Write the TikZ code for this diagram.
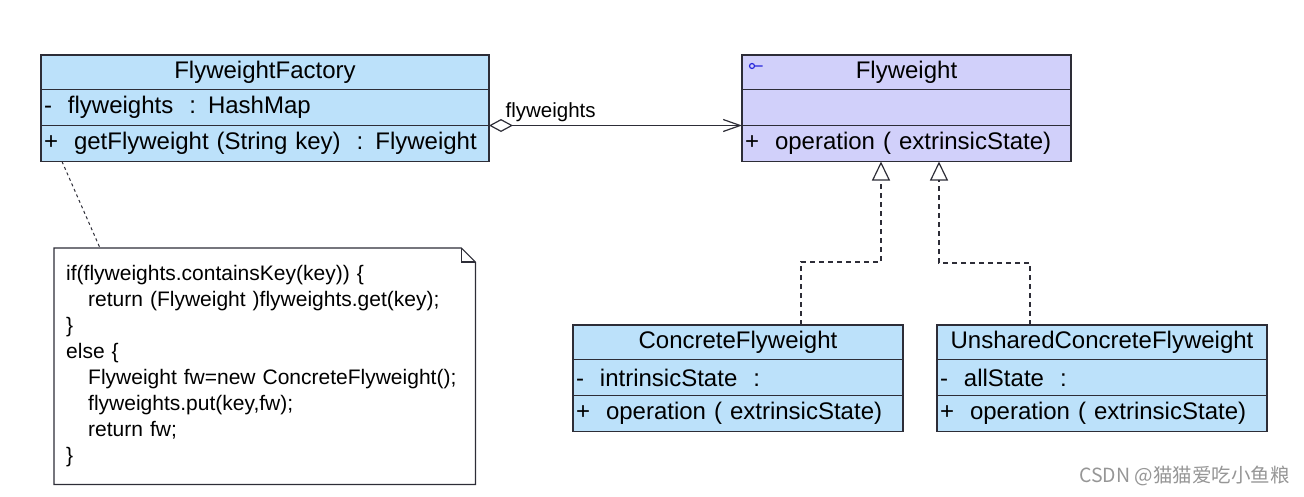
\documentclass[tikz,border=0pt]{standalone}
\usepackage{fontspec}
\setmainfont{Liberation Sans}
\newfontfamily\cjkfont{Noto Sans CJK SC}
\usepackage{tikz}
\usetikzlibrary{arrows.meta, shapes, positioning}
\definecolor{classblue}{RGB}{188,225,250}
\definecolor{ifaceblue}{RGB}{209,208,250}
\definecolor{boxline}{RGB}{45,45,55}
\definecolor{iconblue}{RGB}{40,40,220}
\definecolor{markgray}{RGB}{150,150,150}
\newcommand{\clsfont}{\fontsize{24}{29}\selectfont}
\newcommand{\notefont}{\fontsize{21}{26}\selectfont}
\newcommand{\lblfont}{\fontsize{20.5}{24}\selectfont}

\begin{document}
\begin{tikzpicture}[x=1pt, y=-1pt]
\tikzstyle{clsbox}=[draw=boxline, line width=1.2pt, fill=classblue, inner sep=0pt, outer sep=0pt, font=\clsfont]
\tikzstyle{clsname}=[clsbox, minimum height=34.5pt, anchor=north west]
\tikzstyle{clsrow}=[clsbox, minimum height=36pt, inner xsep=3pt, align=left]
\tikzstyle{realize}=[draw=boxline, line width=1.2pt, dash pattern=on 5pt off 4pt, -{Triangle[open, length=19pt, width=18pt]}]
\tikzstyle{notelink}=[draw=boxline, line width=1pt, dash pattern=on 3pt off 3pt]
\useasboundingbox (0,0) rectangle (1304,496);

\node (factory) [clsname, minimum width=448pt] at (41,55) {FlyweightFactory};
\node (factory-attr) [clsrow, text width=442pt, below=0pt of factory] {-~~flyweights~~: HashMap};
\node (factory-op) [clsrow, text width=442pt, below=0pt of factory-attr] {\mbox{+~~getFlyweight (String key)~~: Flyweight}};

\node (flyweight) [clsname, fill=ifaceblue, minimum width=329pt] at (742,55) {Flyweight};
\node (flyweight-attr) [clsrow, fill=ifaceblue, text width=323pt, below=0pt of flyweight] {};
\node (flyweight-op) [clsrow, fill=ifaceblue, text width=323pt, below=0pt of flyweight-attr] {+~~operation ( extrinsicState)};
\draw [draw=iconblue, line width=1.2pt] ([xshift=10pt, yshift=-11pt]flyweight.north west) circle (2.5pt) ++(2.5pt,0) -- ++(8pt,0);

\node (concrete) [clsname, minimum width=330pt] at (573,325) {ConcreteFlyweight};
\node (concrete-attr) [clsrow, text width=324pt, below=0pt of concrete] {-~~intrinsicState~~:};
\node (concrete-op) [clsrow, text width=324pt, below=0pt of concrete-attr] {+~~operation ( extrinsicState)};

\node (unshared) [clsname, minimum width=330pt] at (937,325) {UnsharedConcreteFlyweight};
\node (unshared-attr) [clsrow, text width=324pt, below=0pt of unshared] {-~~allState~~:};
\node (unshared-op) [clsrow, text width=324pt, below=0pt of unshared-attr] {+~~operation ( extrinsicState)};

\draw [draw=boxline, line width=1.2pt, {Diamond[open, length=24pt, width=13pt]}-{Straight Barb[length=17pt, width=12pt]}] (factory-op.north east) -- node[pos=0, anchor=base west, xshift=16pt, yshift=8pt, inner sep=0pt, font=\lblfont]{flyweights} (flyweight-op.north west);

\draw [realize] ([xshift=63pt]concrete.north) -- ++(0,-63) -| ([xshift=-25.5pt]flyweight-op.south);
\draw [realize] ([xshift=-72pt]unshared.north) -- ++(0,-62) -| ([xshift=32.5pt]flyweight-op.south);

\node (note) [minimum width=421pt, minimum height=236pt, anchor=north west, inner xsep=12pt, text width=397pt, align=left, font=\notefont] at (54,248) {if(flyweights.containsKey(key)) \{\\
\hspace*{22pt}return (Flyweight )flyweights.get(key);\\
\}\\
else \{\\
\hspace*{22pt}Flyweight fw=new ConcreteFlyweight();\\
\hspace*{22pt}flyweights.put(key,fw);\\
\hspace*{22pt}return fw;\\
\}};
\draw [draw=boxline, line width=1.2pt] (note.north west) -- ([xshift=-14pt]note.north east) -- ([yshift=-14pt]note.north east) -- (note.south east) -- (note.south west) -- cycle;
\draw [draw=boxline, line width=1.2pt] ([xshift=-14pt]note.north east) |- ([yshift=-14pt]note.north east);
\draw [notelink] ([xshift=21pt]factory-op.south west) -- ([xshift=46pt]note.north west);

\node (mark) [anchor=east, inner sep=0pt, text=markgray, font=\cjkfont\fontsize{19.5}{22}\selectfont] at (1290,476) {CSDN @猫猫爱吃小鱼粮};
\end{tikzpicture}
\end{document}
